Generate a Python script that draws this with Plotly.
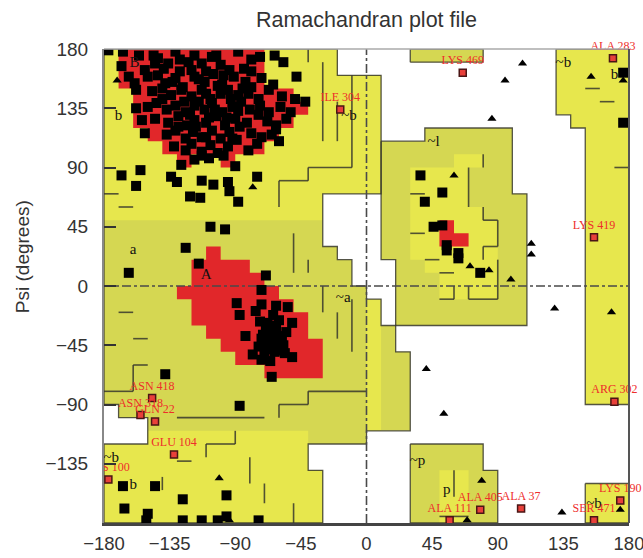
import plotly.graph_objects as go

# ---------------- region outlines, (phi, psi) vertices in degrees ----------------
generous_left = [(-180, 180), (-20, 180), (-20, 160), (10, 160), (10, 70), (-30, 70), (-30, 30),
                 (-20, 30), (-20, 20), (-10, 20), (-10, 0), (0, 0), (0, -10), (10, -10), (10, -30),
                 (20, -30), (20, -50), (30, -50), (30, -110), (0, -110), (0, -120), (-40, -120),
                 (-40, -140), (-30, -140), (-30, -180), (-180, -180), (-180, -120), (-150, -120),
                 (-150, -100), (-170, -100), (-170, -90), (-180, -90)]
generous_top = [(30, 170), (80, 170), (80, 180), (30, 180)]
generous_p = [(30, -120), (80, -120), (80, -140), (90, -140), (90, -180), (30, -180)]
generous_l = [(10, 110), (40, 110), (40, 120), (100, 120), (100, 70), (110, 70), (110, -30),
              (20, -30), (20, 20), (10, 20)]

allowed_left_top = [(-180, 180), (-20, 180), (-20, 160), (10, 160), (10, 70), (-30, 70), (-30, 50), (-180, 50)]
allowed_left_bottom = [(-180, -120), (-150, -120), (-150, -110), (-40, -110), (-40, -140), (-30, -140),
                       (-30, -180), (-180, -180)]
allowed_zero_strip = [(0, -10), (10, -10), (10, -110), (0, -110)]
allowed_right_strip = [(130, 180), (180, 180), (180, -90), (150, -90), (150, 120), (140, 120), (140, 130), (130, 130)]
allowed_right_box = [(150, -150), (180, -150), (180, -180), (150, -180)]
allowed_l = [(60, 100), (80, 100), (80, 90), (70, 90), (70, 60), (80, 60), (80, 50), (90, 50), (90, -10),
             (50, -10), (50, 10), (40, 10), (40, 20), (30, 20), (30, 90), (60, 90)]
allowed_p = [(50, -140), (70, -140), (70, -180), (50, -180)]

core_B = [(-170, 180), (-70, 180), (-70, 150), (-50, 150), (-50, 140), (-40, 140), (-40, 130), (-50, 130),
          (-50, 120), (-60, 120), (-60, 110), (-70, 110), (-70, 100), (-90, 100), (-90, 90), (-100, 90),
          (-100, 100), (-120, 100), (-120, 90), (-130, 90), (-130, 100), (-140, 100), (-140, 110),
          (-150, 110), (-150, 120), (-160, 120), (-160, 150), (-170, 150)]
core_A = [(-110, 30), (-100, 30), (-100, 20), (-80, 20), (-80, 10), (-70, 10), (-70, 0), (-60, 0), (-60, -10),
          (-50, -10), (-50, -20), (-40, -20), (-40, -40), (-30, -40), (-30, -70), (-70, -70), (-70, -60),
          (-90, -60), (-90, -50), (-100, -50), (-100, -40), (-110, -40), (-110, -30), (-120, -30),
          (-120, -10), (-130, -10), (-130, 0), (-120, 0), (-120, 20), (-110, 20)]
core_L = [(50, 50), (60, 50), (60, 40), (70, 40), (70, 30), (50, 30)]

boundary_segments = [
    (-40, 180, -40, 170), (-30, 170, -30, 110), (-20, 140, -20, 110), (-10, 160, -10, 90),
    (-40, 90, -10, 90), (-40, 90, -40, 80), (-60, 80, -40, 80), (-60, 80, -60, 60),
    (-180, 70, -170, 70), (-170, 60, -160, 60), (-50, 40, -50, 10), (-40, 20, -40, 10),
    (-170, -20, -160, -20), (-160, -40, -150, -40), (-10, -10, -10, -50), (-20, -20, -20, -40),
    (-30, 0, -30, -20), (-160, -60, -150, -60), (-160, -60, -160, -80), (-180, -80, -160, -80),
    (-130, -100, -70, -100), (-60, -90, -60, -100), (-60, -90, -40, -90), (-40, -80, -40, -90),
    (-40, -80, 0, -80), (-110, -120, -110, -130), (-110, -120, -90, -120), (-90, -110, -90, -120),
    (-80, -130, -80, -150), (-70, -150, -70, -165), (-50, -165, -50, -180), (-140, -145, -140, -155),
    (-130, -133, -120, -133), (150, 150, 160, 150), (160, 140, 170, 140), (170, 90, 180, 90),
    (80, 100, 80, 90), (70, 90, 70, 60), (30, 70, 40, 70), (80, 60, 80, 50), (80, 50, 90, 50),
    (90, 50, 90, 30), (30, 40, 40, 40), (80, 30, 90, 30), (80, 30, 80, 20), (90, 20, 90, -10),
    (40, 20, 50, 20), (50, 10, 60, 10), (60, 0, 60, -10), (50, -10, 60, -10), (70, 0, 70, -10),
    (70, -10, 90, -10), (60, -140, 60, -160), (50, -175, 70, -175),
]

# ---------------- residues (phi, psi) ----------------
beta_residues = [
    (-177, 179), (-167, 178), (-156, 175), (-146, 175), (-143, 173), (-131, 178), (-128, 172), (-118, 175),
    (-106, 174), (-103, 175), (-88, 178), (-79, 172), (-73, 174), (-63, 175),
    (-168, 167), (-152, 164), (-145, 169), (-139, 165), (-136, 169), (-122, 170), (-120, 164), (-113, 169),
    (-110, 163), (-100, 168), (-94, 164), (-84, 165), (-79, 163), (-57, 170),
    (-163, 159), (-159, 154), (-150, 159), (-143, 160), (-138, 154), (-131, 158), (-126, 151), (-118, 159),
    (-111, 155), (-105, 161), (-99, 153), (-91, 159), (-83, 155), (-79, 151), (-72, 158), (-64, 153), (-48, 159),
    (-158, 149), (-147, 148), (-140, 150), (-134, 145), (-127, 149), (-120, 144), (-113, 149), (-107, 142),
    (-100, 146), (-95, 149), (-88, 145), (-81, 146), (-74, 142), (-67, 149), (-58, 144), (-49, 142), (-42, 140),
    (-158, 135), (-150, 136), (-144, 139), (-137, 134), (-131, 137), (-124, 132), (-118, 137), (-111, 134),
    (-106, 139), (-99, 132), (-92, 136), (-86, 140), (-80, 134), (-73, 137), (-67, 132), (-59, 136), (-52, 132),
    (-154, 126), (-145, 127), (-136, 124), (-129, 129), (-123, 122), (-118, 126), (-110, 124), (-103, 129),
    (-97, 122), (-90, 127), (-82, 124), (-74, 130), (-68, 125), (-62, 122), (-55, 127),
    (-152, 116), (-137, 115), (-131, 118), (-124, 112), (-119, 117), (-113, 113), (-106, 118), (-100, 112),
    (-94, 117), (-87, 121), (-79, 116), (-72, 113), (-65, 115), (-62, 119),
    (-132, 106), (-124, 103), (-120, 108), (-113, 102), (-107, 107), (-102, 101), (-95, 106), (-89, 111),
    (-81, 103), (-75, 108), (-60, 110),
    (-127, 92), (-118, 96), (-113, 99), (-108, 97), (-98, 99), (-90, 91),
    (-128, 163), (-115, 157), (-102, 152), (-93, 142), (-125, 140), (-110, 146), (-96, 128), (-108, 128),
    (-121, 130), (-88, 133), (-133, 155), (-117, 121), (-104, 134), (-129, 121), (-115, 140), (-98, 160),
    (-85, 150), (-140, 142), (-110, 113), (-92, 112),
]
beta_low_residues = [(-168, 84), (-155, 88), (-158, 76), (-134, 83), (-130, 79), (-121, 68), (-114, 67),
                     (-113, 80), (-105, 77), (-95, 79), (-94, 72), (-88, 64), (-75, 83)]
band_residues = [(-107, 45), (-97, 43), (-124, 29), (-115, 17), (-163, 10), (-69, 8)]
alpha_residues = [
    (-72, -3), (-89, -13), (-72, -14), (-62, -15), (-54, -16), (-87, -22), (-76, -19), (-64, -22), (-51, -28),
    (-83, -38), (-71, -37), (-67, -33), (-65, -41), (-62, -33), (-58, -38), (-55, -35), (-74, -46), (-70, -50),
    (-63, -47), (-57, -45), (-56, -51), (-51, -54), (-78, -52), (-72, -56), (-66, -57), (-65, -69), (-68, -28),
    (-60, -26), (-73, -27), (-63, -50), (-58, -49), (-65, -38), (-71, -42), (-62, -43), (-66, -36), (-70, -44),
    (-62, -40), (-67, -48), (-60, -45), (-72, -40), (-64, -30), (-69, -32), (-138, -67), (-87, -91),
]
lower_left_residues = [(-167, -152), (-145, -152), (-166, -169), (-150, -173), (-126, -162), (-151, -178),
                       (-126, -178), (-113, -178), (-102, -178), (-96, -175), (-96, -159), (-74, -178)]
right_residues = [(176, 162), (176, 124), (37, 84), (52, 71), (40, 64), (46, 45), (52, 46), (55, 31),
                  (55, 27), (63, 25), (63, 21), (78, 10)]
glycine_residues = [(107, 169), (95, 156), (86, 127), (154, 159), (176, 156), (60, 84), (71, 15), (84, 12),
                    (99, 5), (113, 32), (113, 24), (129, -17), (168, -20), (41, -63), (53, -97), (79, -148),
                    (69, -178), (134, -172), (174, -170), (-78, 75), (-101, -146), (-94, -178), (-171, 156)]

outlier_names = ["ILE 304", "LYS 469", "ALA 283", "LYS 419", "ARG 302", "LYS 190", "SER 471", "ALA 37",
                 "ALA 405", "ALA 111", "ASN 418", "ASN 318", "GLN 22", "GLU 104"]
outlier_phi = [-18, 66, 169, 156, 170, 174, 156, 106, 78, 57, -147, -155, -145, -132]
outlier_psi = [134, 162, 173, 37, -88, -163, -178, -169, -170, -178, -85, -98, -103, -128]
edge_outlier_name = ["LYS 100"]
edge_outlier_phi = [-177]
edge_outlier_psi = [-147]

region_letters = ["B", "A", "b", "a", "~a", "~b", "~b", "b", "~b", "b", "~l", "~p", "p", "~b"]
region_letter_phi = [-159, -110, -170, -160, -16, -12, -175, -160, 135, 170, 46, 35, 55, 156]
region_letter_psi = [169, 8, 129, 27, -9, 129, -131, -151, 169, 160, 109, -133, -155, -166]

x_ticks = [-180, -135, -90, -45, 0, 45, 90, 135, 180]
y_ticks = [-135, -90, -45, 0, 45, 90, 135, 180]

# ---------------- styles ----------------
RED = "#E1272A"
BRIGHT = "#E7E74D"
DULL = "#D5D752"
EDGE = "rgba(55,55,45,0.85)"
SANS = "Liberation Sans, Arial, sans-serif"
SERIF = "Liberation Serif, Times New Roman, serif"

fig = go.Figure()


def closed(verts):
    return [v[0] for v in verts] + [verts[0][0]], [v[1] for v in verts] + [verts[0][1]]


def fill_poly(verts, color):
    xs, ys = closed(verts)
    fig.add_trace(go.Scatter(x=xs, y=ys, mode="none", fill="toself", fillcolor=color,
                             hoverinfo="skip", showlegend=False))


for poly in [generous_left, generous_top, generous_p, generous_l]:
    fill_poly(poly, DULL)
for poly in [allowed_left_top, allowed_left_bottom, allowed_zero_strip, allowed_right_strip,
             allowed_right_box, allowed_l, allowed_p]:
    fill_poly(poly, BRIGHT)
for poly in [core_B, core_A, core_L]:
    fill_poly(poly, RED)

# outlines of outer regions
ox, oy = [], []
for poly in [generous_left, generous_top, generous_p, generous_l, allowed_right_strip, allowed_right_box]:
    xs, ys = closed(poly)
    ox += xs + [None]
    oy += ys + [None]
fig.add_trace(go.Scatter(x=ox, y=oy, mode="lines", line=dict(color=EDGE, width=1.3),
                         hoverinfo="skip", showlegend=False))

# interior boundary strokes
sx, sy = [], []
for x0, y0, x1, y1 in boundary_segments:
    sx += [x0, x1, None]
    sy += [y0, y1, None]
fig.add_trace(go.Scatter(x=sx, y=sy, mode="lines", line=dict(color=EDGE, width=1.6),
                         hoverinfo="skip", showlegend=False))

# zero lines
fig.add_trace(go.Scatter(x=[-180, 180], y=[0, 0], mode="lines",
                         line=dict(color="#4a4a4a", width=1.6, dash="dashdot"), hoverinfo="skip", showlegend=False))
fig.add_trace(go.Scatter(x=[0, 0], y=[-180, 180], mode="lines",
                         line=dict(color="#4a4a4a", width=1.6, dash="dashdot"), hoverinfo="skip", showlegend=False))

# residues
squares = beta_residues + beta_low_residues + band_residues + alpha_residues + lower_left_residues + right_residues
fig.add_trace(go.Scatter(x=[p[0] for p in squares], y=[p[1] for p in squares], mode="markers",
                         marker=dict(symbol="square", size=10, color="black", line=dict(width=0)),
                         showlegend=False))
fig.add_trace(go.Scatter(x=[p[0] for p in glycine_residues], y=[p[1] for p in glycine_residues], mode="markers",
                         marker=dict(symbol="triangle-up", size=8, color="black", line=dict(width=0)),
                         showlegend=False))

# region letters
fig.add_trace(go.Scatter(x=region_letter_phi, y=region_letter_psi, mode="text", text=region_letters,
                         textfont=dict(family=SERIF, size=15, color="#111"), hoverinfo="skip", showlegend=False))

# outliers
fig.add_trace(go.Scatter(x=outlier_phi, y=outlier_psi, mode="markers+text", text=outlier_names,
                         textposition="top center", cliponaxis=False,
                         textfont=dict(family=SERIF, size=12, color="#EE2E2B"),
                         marker=dict(symbol="square", size=7, color="#E8403A", line=dict(color="#4a1515", width=1.5)),
                         showlegend=False))
fig.add_trace(go.Scatter(x=edge_outlier_phi, y=edge_outlier_psi, mode="markers+text", text=edge_outlier_name,
                         textposition="top center", cliponaxis=True,
                         textfont=dict(family=SERIF, size=12, color="#EE2E2B"),
                         marker=dict(symbol="square", size=7, color="#E8403A", line=dict(color="#4a1515", width=1.5)),
                         showlegend=False))

fig.update_layout(
    width=643, height=558,
    margin=dict(l=104, r=14, t=49, b=35),
    paper_bgcolor="white", plot_bgcolor="white",
    showlegend=False,
    title=dict(text="Ramachandran plot file", x=0.5, xref="paper", xanchor="center",
               y=1 - 19 / 558, yref="container", yanchor="middle",
               font=dict(family=SANS, size=21.5, color="#333")),
    xaxis=dict(range=[-180, 180], tickvals=x_ticks, showgrid=False, zeroline=False, automargin=False,
               showline=True, linecolor="#444", linewidth=3, ticks="", ticklabelstandoff=2,
               ticklabeloverflow="allow",
               tickfont=dict(family=SANS, size=18.5, color="#333")),
    yaxis=dict(range=[-180, 180], tickvals=y_ticks, showgrid=False, zeroline=False, automargin=False,
               showline=True, linecolor="#888", linewidth=2, ticks="inside", ticklen=12,
               tickcolor="#333", tickwidth=1.5, ticklabelstandoff=10,
               tickfont=dict(family=SANS, size=19, color="#333")),
    annotations=[dict(text="Psi (degrees)", x=-0.156, y=0.561, xref="paper", yref="paper",
                      textangle=-90, showarrow=False, xanchor="center", yanchor="middle",
                      font=dict(family=SANS, size=19, color="#333"))],
    shapes=[dict(type="line", xref="paper", yref="paper", x0=0, x1=1, y0=1, y1=1,
                 line=dict(color="#aaa", width=1.5)),
            dict(type="line", xref="paper", yref="paper", x0=1, x1=1, y0=0, y1=1,
                 line=dict(color="#555", width=2))],
)

fig.write_html("out.html", config={"displayModeBar": False},
               post_script="document.body.style.margin='0';")
